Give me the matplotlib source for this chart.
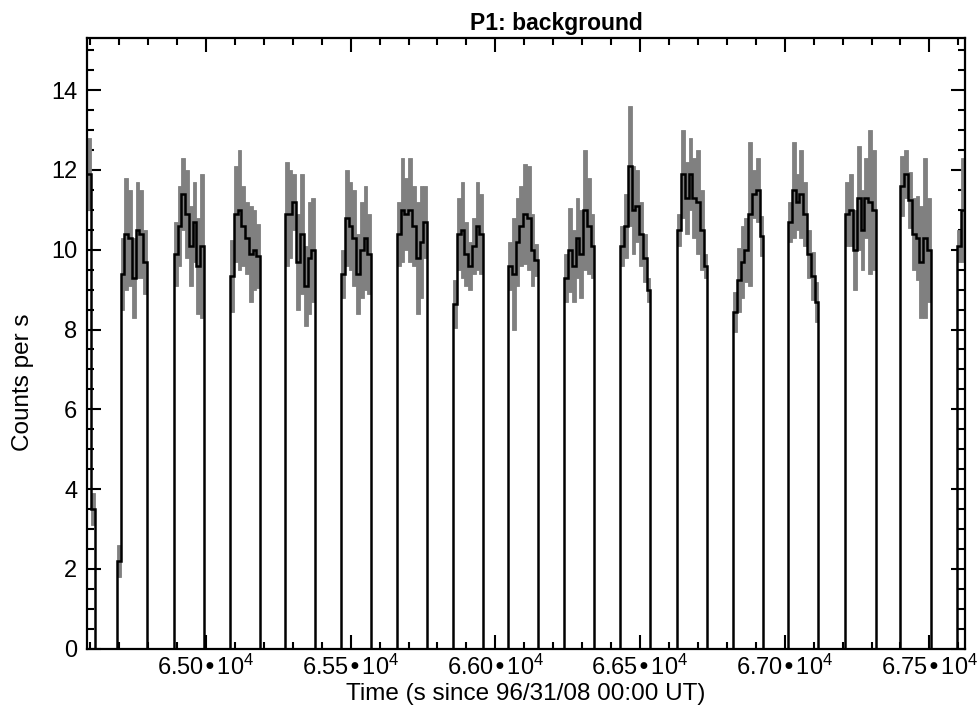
"""Recreate the 'P1: background' light curve: step histogram with grey error bars."""

import numpy as np
import matplotlib

matplotlib.use("Agg")
import matplotlib.pyplot as plt
from matplotlib.ticker import FuncFormatter, MultipleLocator

plt.rcParams["font.family"] = ["Liberation Sans", "DejaVu Sans"]
plt.rcParams["mathtext.default"] = "regular"

# Time bin width (s) and the start time of each on-source pulse.
bin_width = 13.0
pulse_start = [64577, 64692, 64889, 65083, 65273, 65467, 65660, 65854, 66044,
               66238, 66432, 66629, 66822, 67012, 67210, 67400, 67597]

# Count rate (counts per s) in each bin of every pulse.
pulse_values = [
    [11.9, 11.9, 3.5],
    [2.2, 9.4, 10.4, 10.3, 9.3, 10.5, 10.4, 9.7],
    [9.9, 10.6, 11.4, 10.9, 10.1, 10.7, 9.6, 10.1],
    [9.35, 10.9, 11.0, 10.6, 10.3, 9.9, 10.0, 9.85],
    [10.9, 10.9, 11.2, 9.7, 10.4, 9.1, 9.8, 10.0],
    [9.4, 10.8, 10.6, 10.3, 9.4, 10.0, 10.3, 9.9],
    [10.4, 11.0, 10.9, 11.0, 10.6, 9.8, 10.2, 10.7],
    [8.65, 10.4, 10.5, 9.9, 9.6, 10.1, 10.6, 10.4],
    [9.6, 9.4, 10.2, 10.6, 10.9, 10.8, 10.0, 9.75],
    [9.3, 10.0, 9.6, 10.3, 9.9, 11.0, 10.6, 10.1],
    [10.1, 10.6, 12.1, 11.0, 11.1, 10.4, 9.8, 9.0],
    [10.5, 11.9, 11.3, 11.9, 11.3, 11.2, 10.5, 9.6],
    [8.45, 9.25, 9.7, 10.0, 10.9, 11.4, 11.5, 10.35],
    [10.7, 11.5, 11.2, 11.4, 10.9, 9.9, 9.35, 8.7],
    [10.9, 11.0, 10.0, 11.3, 10.5, 11.3, 11.2, 11.0],
    [11.6, 11.9, 11.25, 10.4, 10.3, 9.7, 10.3, 10.0],
    [10.1, 11.0, 11.0],
]

# One-sigma error on each bin.
pulse_errors = [
    [0.9, 0.9, 0.4],
    [0.4, 0.9, 1.4, 1.2, 1.0, 1.2, 1.1, 0.8],
    [0.8, 1.0, 0.9, 1.1, 1.0, 1.0, 1.2, 1.8],
    [0.9, 1.2, 1.5, 1.0, 0.9, 1.2, 1.0, 0.8],
    [1.3, 1.1, 0.7, 1.2, 1.5, 1.0, 1.4, 1.3],
    [0.6, 1.2, 1.1, 1.2, 1.0, 1.2, 1.3, 1.0],
    [0.8, 1.3, 0.9, 1.3, 1.0, 1.4, 1.4, 0.9],
    [0.6, 0.9, 1.2, 0.8, 0.6, 0.7, 1.1, 1.0],
    [0.6, 1.4, 1.1, 1.0, 1.25, 1.3, 0.9, 0.4],
    [0.6, 1.05, 0.9, 1.0, 1.1, 1.5, 1.2, 0.8],
    [0.5, 0.8, 1.5, 1.1, 0.9, 0.8, 0.6, 0.3],
    [0.4, 1.1, 0.9, 0.9, 1.0, 1.3, 1.0, 0.3],
    [0.5, 0.8, 0.9, 0.8, 1.8, 0.6, 0.8, 0.5],
    [0.5, 1.2, 0.7, 1.1, 0.8, 0.6, 0.6, 0.5],
    [0.8, 0.9, 1.0, 1.3, 1.0, 1.0, 1.8, 1.5],
    [0.75, 0.6, 0.7, 0.9, 1.05, 1.4, 2.0, 1.3],
    [0.4, 1.3, 1.3],
]

x_range = (64589, 67624)
y_range = (0, 15.3)


def main() -> int:
    fig = plt.figure(figsize=(9.78, 7.09), dpi=100)
    ax = fig.add_axes([0.089, 0.085, 0.898, 0.861])

    for start, vals, errs in zip(pulse_start, pulse_values, pulse_errors):
        vals = np.asarray(vals)
        errs = np.asarray(errs)
        edges = start + bin_width * np.arange(len(vals) + 1)
        centers = 0.5 * (edges[:-1] + edges[1:])
        # grey error bars fill the bin, black histogram outline on top
        ax.bar(centers, 2 * errs, bottom=vals - errs, width=bin_width,
               color="0.5", edgecolor="0.5", linewidth=0.6, zorder=2)
        ax.stairs(vals, edges, baseline=0, color="black", linewidth=1.8, zorder=3)

    ax.set_xlim(*x_range)
    ax.set_ylim(*y_range)

    ax.xaxis.set_major_locator(MultipleLocator(500))
    ax.xaxis.set_minor_locator(MultipleLocator(100))
    ax.yaxis.set_major_locator(MultipleLocator(2))
    ax.yaxis.set_minor_locator(MultipleLocator(0.5))
    ax.xaxis.set_major_formatter(FuncFormatter(lambda x, _: f"{x / 1e4:.2f}•10$^{{4}}$"))
    ax.yaxis.set_major_formatter(FuncFormatter(lambda y, _: f"{y:.0f}"))

    ax.tick_params(which="both", direction="in", top=True, right=True, width=1.5)
    ax.tick_params(which="major", length=10)
    ax.tick_params(which="minor", length=5)
    ax.tick_params(axis="x", labelsize=17, pad=4)
    ax.tick_params(axis="y", labelsize=17, pad=7)
    for spine in ax.spines.values():
        spine.set_linewidth(1.6)

    # IDL-style placement: title sits right of centre, y label below centre
    ax.set_title("P1: background", fontsize=16.5, fontweight="bold", x=0.534, pad=6)
    ax.set_xlabel("Time (s since 96/31/08 00:00 UT)", fontsize=17.5)
    ax.xaxis.set_label_coords(0.5, -0.056)
    ax.set_ylabel("Counts per s", fontsize=17.5)
    ax.yaxis.set_label_coords(-0.06, 0.437)

    fig.savefig("out.png", dpi=100)
    plt.close(fig)
    return 0


if __name__ == "__main__":
    raise SystemExit(main())
